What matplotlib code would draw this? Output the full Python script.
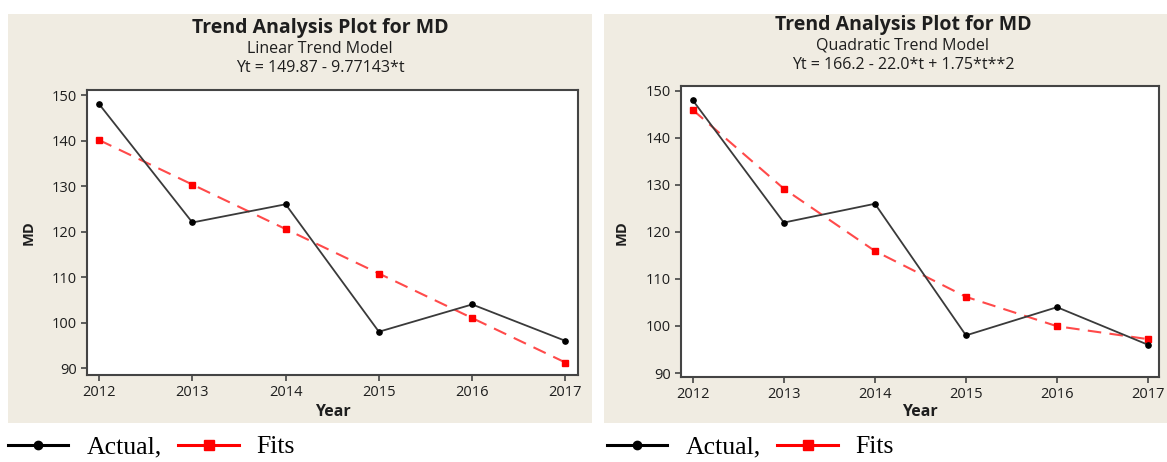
import matplotlib
matplotlib.use("Agg")
from matplotlib import pyplot as plt
from matplotlib.patches import Rectangle
from matplotlib.lines import Line2D

years = [2012, 2013, 2014, 2015, 2016, 2017]
actual = [148, 122, 126, 98, 104, 96]
linear_fits = [140.10, 130.33, 120.56, 110.79, 101.01, 91.24]
quad_fits = [145.95, 129.20, 115.95, 106.20, 99.95, 97.20]
yticks = [90, 100, 110, 120, 130, 140, 150]

panels = [
    ("Linear Trend Model", "Yt = 149.87 - 9.77143*t", linear_fits),
    ("Quadratic Trend Model", "Yt = 166.2 - 22.0*t + 1.75*t**2", quad_fits),
]

W, H = 1167, 462
plt.rcParams["font.family"] = ["Open Sans", "DejaVu Sans"]
fig = plt.figure(figsize=(W / 100, H / 100), dpi=100)

bg = "#f0ece2"
txt = "#1e1e1e"
# pixel boxes: background (x0, x1), axes (x0, x1, ytop, ybottom)
bg_boxes = [(8, 592), (604, 1167)]
ax_boxes = [(87, 578, 90, 375), (681, 1159, 86, 377)]
ylims = [(88.5, 151.1), (89.15, 151.05)]
xlims = [(2011.87, 2017.135), (2011.87, 2017.12)]
title_x = [320, 903]
title_y = [[28, 49, 68], [25, 45, 65]]
ylab_x = [29, 622]


def fx(px):
    return px / W


def fy(py):
    return 1 - py / H


for i, (sub, eq, fits) in enumerate(panels):
    bx0, bx1 = bg_boxes[i]
    fig.add_artist(Rectangle((fx(bx0), fy(423)), fx(bx1 - bx0), (423 - 14) / H,
                             transform=fig.transFigure, facecolor=bg,
                             edgecolor="none", zorder=0))
    x0, x1, yt, yb = ax_boxes[i]
    ax = fig.add_axes([fx(x0), fy(yb), fx(x1 - x0), (yb - yt) / H])
    ax.plot(years, actual, color="#3a3a3a", lw=1.3, marker="o", ms=3.8,
            markerfacecolor="black", markeredgecolor="black", zorder=3)
    ax.plot(years, fits, color="#ff4a4a", lw=1.5, dashes=(6.5, 4), marker="s",
            ms=4.8, markerfacecolor="red", markeredgecolor="red", zorder=2)
    ax.set_xlim(*xlims[i])
    ax.set_ylim(*ylims[i])
    ax.set_xticks(years)
    ax.set_yticks(yticks)
    ax.tick_params(labelsize=10.5, colors="#444444", labelcolor=txt,
                   length=4, width=1.2, pad=3)
    for sp in ax.spines.values():
        sp.set_color("#444444")
        sp.set_linewidth(1.5)
    cx = (x0 + x1) / 2
    fig.text(fx(cx), fy(412), "Year", ha="center", va="center",
             fontsize=11.5, fontweight="bold", color=txt)
    fig.text(fx(ylab_x[i]), fy(233), "MD", ha="center", va="center",
             rotation=90, fontsize=10.5, fontweight="bold", color=txt)
    fig.text(fx(title_x[i]), fy(title_y[i][0]), "Trend Analysis Plot for MD",
             ha="center", va="center", fontsize=14, fontweight="bold",
             color=txt)
    fig.text(fx(title_x[i]), fy(title_y[i][1]), sub, ha="center",
             va="center", fontsize=11.5, color=txt)
    fig.text(fx(title_x[i]), fy(title_y[i][2]), eq, ha="center",
             va="center", fontsize=11.5, color=txt)

handles = [
    Line2D([], [], color="black", lw=2.2, marker="o", ms=6),
    Line2D([], [], color="red", lw=2.2, marker="s", ms=7.5),
]
for lx in [8, 607]:
    fig.legend(handles, ["Actual,", "Fits"], loc="center left",
               bbox_to_anchor=(fx(lx), fy(447)), ncol=2, frameon=False,
               prop={"family": "Liberation Serif", "size": 18.5},
               handlelength=2.35, handletextpad=0.7, columnspacing=0.65,
               borderaxespad=0, borderpad=0)

fig.savefig("out.png", dpi=100, facecolor="white")
